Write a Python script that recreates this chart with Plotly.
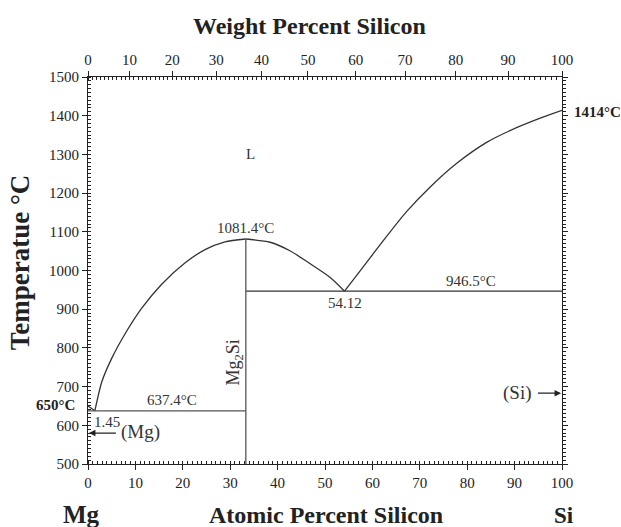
import plotly.graph_objects as go
import numpy as np

# ---- data (atomic percent Si, temperature in °C) ----
mg_liq_x = [0.0, 1.45]
mg_liq_T = [650.0, 637.4]

left_liq_x = [1.45, 2.9, 5.0, 7.8, 11.3, 15.5, 20.5, 24.7, 28.9, 33.3]
left_liq_T = [637.4, 712, 773, 836, 902, 964, 1020, 1054, 1074, 1081.4]

mid_liq_x = [33.3, 38.4, 42.6, 46.8, 51.1, 54.12]
mid_liq_T = [1081.4, 1073, 1051, 1018, 982, 946.5]

right_liq_x = [54.12, 58.1, 62.3, 67.2, 72.2, 77.8, 84.1, 90.4, 96.1, 100.0]
right_liq_T = [946.5, 1010, 1077, 1152, 1216, 1277, 1331, 1369, 1397, 1414]

eut1_x = [0.0, 33.3]
eut1_T = [637.4, 637.4]
eut2_x = [33.3, 100.0]
eut2_T = [946.5, 946.5]
mg2si_x = [33.3, 33.3]
mg2si_T = [500.0, 1081.4]

at_major = list(range(0, 101, 10))
temp_major = list(range(500, 1501, 100))
wt_major = list(range(0, 101, 10))
wt_minor = list(range(0, 101, 1))
M_MG, M_SI = 24.305, 28.086


def wt_to_at(w):
    w = np.asarray(w, dtype=float)
    n_si = w / M_SI
    n_mg = (100 - w) / M_MG
    return 100 * n_si / (n_si + n_mg)


FONT = "Liberation Serif"
INK = "#222222"

fig = go.Figure()
for xs, ts, shape, col in [
    (mg_liq_x, mg_liq_T, "linear", "#333333"),
    (left_liq_x, left_liq_T, "spline", "#333333"),
    (mid_liq_x, mid_liq_T, "spline", "#333333"),
    (right_liq_x, right_liq_T, "spline", "#333333"),
    (eut1_x, eut1_T, "linear", "#555555"),
    (eut2_x, eut2_T, "linear", "#333333"),
    (mg2si_x, mg2si_T, "linear", "#555555"),
]:
    fig.add_trace(go.Scatter(x=xs, y=ts, mode="lines",
                             line=dict(color=col, width=1.3, shape=shape, smoothing=0.7),
                             showlegend=False, hoverinfo="skip"))

# invisible trace for top / right axes
fig.add_trace(go.Scatter(x=[0, 100], y=[500, 500], xaxis="x2", yaxis="y2", mode="lines",
                         line=dict(width=0), showlegend=False, hoverinfo="skip"))

ann = []
def txt(x, y, s, size=14, xanchor="center", yanchor="middle", bold=False, angle=0,
        ref="data", color="#222222"):
    d = dict(x=x, y=y, text=("<b>%s</b>" % s) if bold else s, showarrow=False,
             font=dict(family=FONT, size=size, color=color),
             xanchor=xanchor, yanchor=yanchor, textangle=angle)
    if ref == "paper":
        d.update(xref="paper", yref="paper")
    else:
        d.update(xref="x", yref="y")
    ann.append(d)

txt(34.2, 1300, "L", size=15, color="#333333")
txt(33.3, 1083, "1081.4°C", size=15, yanchor="bottom", color="#333333")
txt(54.2, 943, "54.12", size=15, yanchor="top", color="#333333")
txt(80.8, 948, "946.5°C", size=15, yanchor="bottom", color="#333333")
txt(17.7, 640, "637.4°C", size=15, yanchor="bottom", color="#333333")
txt(0.9, 634, "1.45", size=15, xanchor="left", yanchor="top", color="#333333")
txt(6.5, 583, "(Mg)", size=19, xanchor="left", color="#333333")
txt(94.0, 683, "(Si)", size=19, xanchor="right", color="#333333")
txt(31.0, 762, "Mg<sub>2</sub>Si", size=18, angle=-90, color="#333333")

# outside-the-axes labels (paper coordinates)
txt(-0.024, 0.152, "650°C", size=15, xanchor="right", bold=True, ref="paper")
txt(1.022, 0.909, "1414°C", size=15, xanchor="left", bold=True, ref="paper")
txt(0.468, 1.133, "Weight Percent Silicon", size=24, bold=True, ref="paper")
txt(0.502, -0.132, "Atomic Percent Silicon", size=24, bold=True, ref="paper")
txt(-0.014, -0.130, "Mg", size=25, bold=True, ref="paper")
txt(1.005, -0.134, "Si", size=23, bold=True, ref="paper")
txt(-0.143, 0.522, "Temperatue °C", size=27, bold=True, angle=-90, ref="paper")

# arrows
ann.append(dict(x=0.2, y=580, ax=6.2, ay=580, xref="x", yref="y", axref="x", ayref="y",
                text="", showarrow=True, arrowhead=2, arrowsize=1, arrowwidth=1.3,
                arrowcolor=INK))
ann.append(dict(x=99.8, y=683, ax=94.6, ay=683, xref="x", yref="y", axref="x", ayref="y",
                text="", showarrow=True, arrowhead=2, arrowsize=1, arrowwidth=1.3,
                arrowcolor=INK))

tickfont = dict(family=FONT, size=15, color=INK)
common = dict(showgrid=False, zeroline=False, showline=True, linecolor=INK, linewidth=1.2,
              tickcolor=INK, tickfont=tickfont)
fig.update_layout(
    width=621, height=527,
    margin=dict(l=88, r=59, t=77, b=63),
    paper_bgcolor="white", plot_bgcolor="white",
    annotations=ann,
    xaxis=dict(range=[0, 100], tickmode="array", tickvals=at_major,
               ticks="outside", ticklen=5,
               minor=dict(dtick=1, ticks="inside", ticklen=3, tickcolor=INK, showgrid=False),
               **common),
    xaxis2=dict(range=[0, 100], overlaying="x", side="top", anchor="y2",
                tickmode="array", tickvals=list(wt_to_at(wt_major)),
                ticktext=[str(v) for v in wt_major],
                ticks="outside", ticklen=5,
                minor=dict(tickmode="array", tickvals=list(wt_to_at(wt_minor)), ticks="inside",
                           ticklen=3, tickcolor=INK, showgrid=False),
                **common),
    yaxis=dict(range=[500, 1500], tickmode="array", tickvals=temp_major,
               ticks="outside", ticklen=5,
               minor=dict(dtick=10, ticks="inside", ticklen=3, tickcolor=INK, showgrid=False),
               **common),
    yaxis2=dict(range=[500, 1500], overlaying="y", side="right", anchor="x2",
                tickmode="array", tickvals=temp_major, showticklabels=False,
                ticks="outside", ticklen=5,
                minor=dict(dtick=10, ticks="outside", ticklen=3, tickcolor=INK, showgrid=False),
                **common),
)

fig.write_html("out.html", config={"displayModeBar": False},
               post_script="document.body.style.margin='0';")
